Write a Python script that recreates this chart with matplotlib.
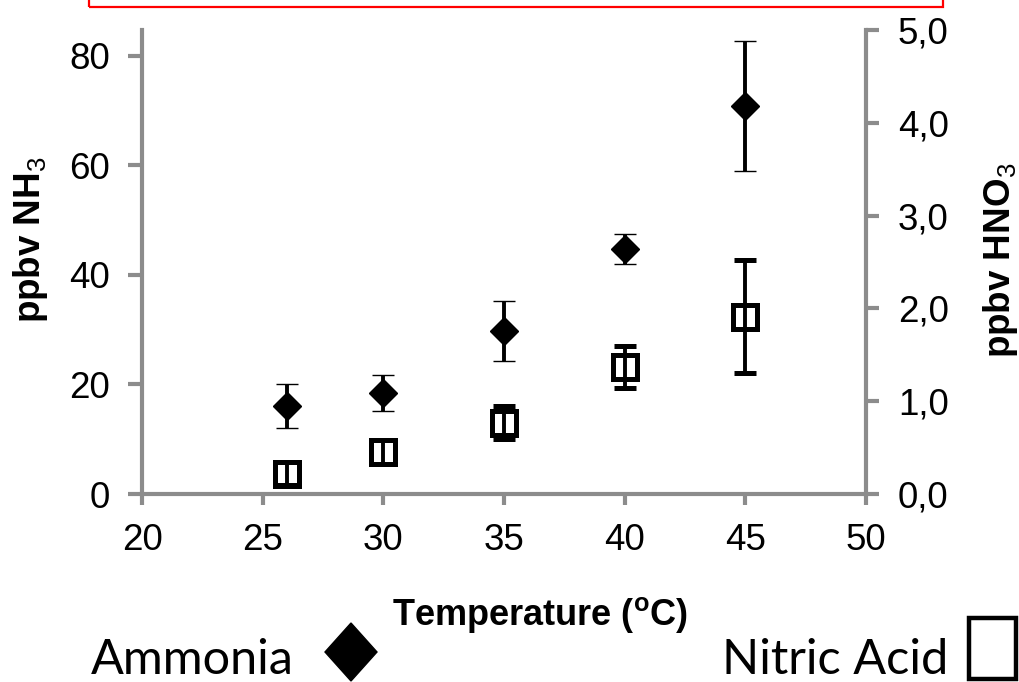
import matplotlib
matplotlib.use("Agg")
import matplotlib.pyplot as plt
from matplotlib.patches import Polygon, Rectangle

plt.rcParams['font.family'] = ['Liberation Sans', 'DejaVu Sans']
plt.rcParams['mathtext.fontset'] = 'custom'
plt.rcParams['mathtext.rm'] = 'Liberation Sans'
plt.rcParams['mathtext.bf'] = 'Liberation Sans:bold'
plt.rcParams['mathtext.it'] = 'Liberation Sans:italic'

# ---- data ----
temps = [26, 30, 35, 40, 45]
nh3 = [16.1, 18.4, 29.8, 44.7, 70.8]
nh3_err = [4.0, 3.3, 5.5, 2.75, 11.9]
hno3 = [0.22, 0.45, 0.77, 1.37, 1.91]
hno3_err = [0.12, 0.13, 0.18, 0.226, 0.61]
x_ticks = [20, 25, 30, 35, 40, 45, 50]
left_ticks = [0, 20, 40, 60, 80]
right_ticks = [0, 1, 2, 3, 4, 5]
right_labels = ['0,0', '1,0', '2,0', '3,0', '4,0', '5,0']

W, H = 1019, 682
fig = plt.figure(figsize=(W / 100, H / 100), dpi=100)
fig.patch.set_facecolor('white')

def fx(px):
    return px / W

def fy(py):
    return 1 - py / H

ax = fig.add_axes([fx(142), fy(494), fx(866) - fx(142), fy(30) - fy(494)])
ax.set_facecolor('none')
ax2 = ax.twinx()
ax2.set_facecolor('none')

gray = '#8c8c8c'
ax.set_xlim(20, 50)
ax.set_ylim(0, 84.7)
ax2.set_ylim(0, 5)

for a in (ax, ax2):
    a.spines['top'].set_visible(False)
ax.spines['right'].set_visible(False)
ax2.spines['left'].set_visible(False)
ax2.spines['bottom'].set_visible(False)
for s in ('left', 'bottom'):
    ax.spines[s].set_color(gray)
    ax.spines[s].set_linewidth(3)
ax2.spines['right'].set_color(gray)
ax2.spines['right'].set_linewidth(3)

ax.set_xticks(x_ticks)
ax.set_yticks(left_ticks)
ax2.set_yticks(right_ticks)
ax2.set_yticklabels(right_labels)

ax.tick_params(axis='x', direction='out', length=8, width=3, color=gray,
               labelsize=26.5, pad=13, labelcolor='black')
ax.tick_params(axis='y', direction='out', length=10, width=3, color=gray,
               labelsize=26.5, pad=13, labelcolor='black')
ax2.tick_params(axis='y', direction='out', length=9, width=3, color=gray,
                labelsize=26.5, pad=14, labelcolor='black')

# Ammonia (left axis)
ax.errorbar(temps, nh3, yerr=nh3_err, fmt='D', color='black', ms=14, mew=1,
            ecolor='black', elinewidth=2.8, capsize=8, capthick=3.2, zorder=5,
            clip_on=False)
# Nitric acid (right axis)
ax2.errorbar(temps, hno3, yerr=hno3_err, fmt='s', color='black', mfc='none',
             mec='black', ms=17.5, mew=3.6, ecolor='black', elinewidth=2.8,
             capsize=8, capthick=3.2, zorder=5, clip_on=False)

# axis labels
fig.text(fx(30), fy(240), 'ppbv NH$_3$', rotation=90, ha='center', va='center',
         fontsize=26.5, fontweight='bold')
fig.text(fx(1000), fy(260), 'ppbv HNO$_3$', rotation=90, ha='center', va='center',
         fontsize=26.5, fontweight='bold')
fig.text(fx(540), fy(615), 'Temperature ($\\mathregular{^o}$C)', ha='center',
         va='center', fontsize=26, fontweight='bold')

# legend-like texts
fig.text(fx(91), fy(674), 'Ammonia', ha='left', va='baseline', fontsize=35,
         family=['Lato', 'DejaVu Sans'])
fig.text(fx(722), fy(674), 'Nitric Acid', ha='left', va='baseline', fontsize=35,
         family=['Lato', 'DejaVu Sans'])
fig.add_artist(Polygon([(fx(325), fy(652)), (fx(351), fy(623)), (fx(377), fy(652)),
                        (fx(351), fy(681))], closed=True, transform=fig.transFigure,
                       facecolor='black', edgecolor='black'))
fig.add_artist(Rectangle((fx(969), fy(679)), fx(1016) - fx(969), fy(618) - fy(679),
                         transform=fig.transFigure, facecolor='white',
                         edgecolor='black', linewidth=3.2, clip_on=False))

# red box at top
fig.add_artist(Rectangle((fx(89), fy(7)), fx(943) - fx(89), fy(-20) - fy(7),
                         transform=fig.transFigure, facecolor='none',
                         edgecolor='red', linewidth=1.6))

fig.savefig('out.png', dpi=100)
